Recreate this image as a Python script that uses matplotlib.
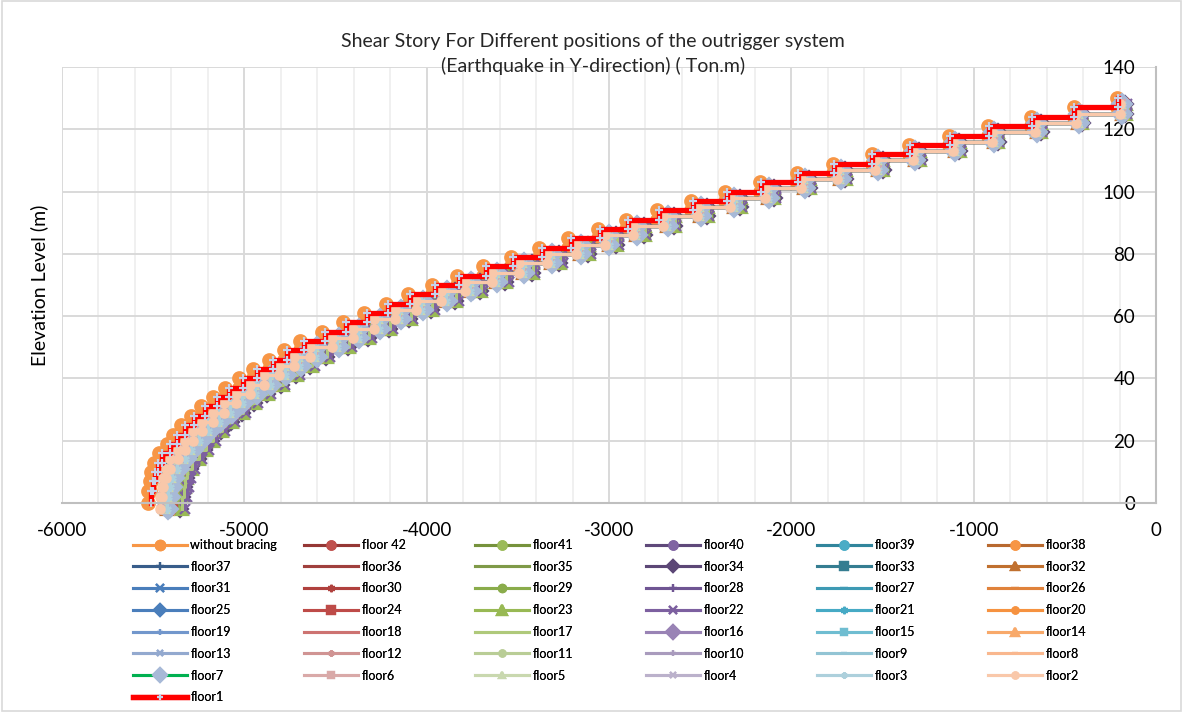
import numpy as np
import matplotlib
matplotlib.use('Agg')
import matplotlib.pyplot as plt
from matplotlib.patches import Rectangle

plt.rcParams['font.family'] = ['Lato', 'DejaVu Sans']
plt.rcParams['axes.unicode_minus'] = False

# story levels (m): ground story 4 m, then 3 m
levels = [0, 4, 7, 10, 13, 16, 19, 22, 25, 28, 31, 34, 37, 40, 43, 46, 49, 52,
          55, 58, 61, 64, 67, 70, 73, 76, 79, 82, 85, 88, 91, 94, 97, 100, 103,
          106, 109, 112, 115, 118, 121, 124, 127, 130]
# the outrigger runs sit a little lower on the sheet
level_drop = 2.0

# story shear, story 1 (bottom) .. story 43 (top)
shear_floor1 = [-5510, -5500, -5490, -5475, -5450, -5405, -5370, -5325, -5275,
                -5215, -5150, -5085, -5010, -4930, -4845, -4765, -4675, -4555,
                -4440, -4325, -4210, -4090, -3955, -3820, -3675, -3525, -3370,
                -3210, -3050, -2895, -2725, -2540, -2355, -2165, -1965, -1765,
                -1555, -1350, -1130, -915, -680, -450, -210]

shear_without = [-5530, -5520, -5510, -5495, -5470, -5425, -5390, -5345, -5295,
                 -5235, -5170, -5105, -5030, -4950, -4865, -4785, -4695, -4575,
                 -4460, -4345, -4225, -4105, -3970, -3835, -3690, -3540, -3385,
                 -3225, -3060, -2905, -2735, -2550, -2365, -2170, -1970, -1770,
                 -1560, -1355, -1135, -920, -685, -452, -212]

# right edge of the bunch of outrigger curves
shear_edge = [-5325, -5315, -5305, -5295, -5270, -5230, -5195, -5155, -5105,
              -5050, -4990, -4925, -4855, -4775, -4695, -4615, -4530, -4410,
              -4300, -4185, -4075, -3955, -3825, -3690, -3550, -3405, -3255,
              -3100, -2945, -2795, -2630, -2450, -2270, -2085, -1890, -1695,
              -1490, -1290, -1070, -860, -625, -400, -160]

# position of each outrigger curve inside the bunch (floor42 .. floor2)
band_pos = [0.5, 0.55, 0.85, 0.45, 0.4, 0.5, 0.45, 0.5, 0.85, 0.4, 0.45,
            0.55, 0.5, 0.85, 0.4, 0.45, 0.5, 0.55, 0.6, 0.9, 1.0, 0.45,
            0.5, 0.55, 0.6, 0.9, 0.5, 0.45, 0.5, 0.55, 0.6, 0.55, 0.5,
            0.45, 0.6, 0.5, 0.35, 0.4, 0.3, 0.45, 0.25]

names = ['without bracing', 'floor 42'] + ['floor%d' % f for f in range(41, 0, -1)]

line_colors = ['#F79646', '#953735', '#76923C', '#5F497A', '#31859C', '#B8692F',
               '#385D8A', '#A0403D', '#7F9A48', '#5C4776', '#357D91', '#C0702F',
               '#4A7EBB', '#B0413E', '#8AAC4B', '#6F5593', '#3E9AB4', '#E0823B',
               '#4A7EBB', '#BE4B48', '#98B954', '#7D60A0', '#46AAC5', '#F69240',
               '#7297CC', '#CD7371', '#AFC97A', '#9983B5', '#6FBDD1', '#F8A96A',
               '#93A9CF', '#D09493', '#B9CD96', '#A99BBD', '#92C4D4', '#F9B78E',
               '#00B050', '#D9A9A8', '#C9D8AF', '#BBB1CB', '#ADD0DC', '#F9C8AA',
               '#FF0000']
marker_colors = ['#F79646', '#C0504D', '#9BBB59', '#8064A2', '#4BACC6', '#F79646',
                 '#385D8A', '#A0403D', '#7F9A48', '#5C4776', '#357D91', '#C0702F',
                 '#4A7EBB', '#B0413E', '#8AAC4B', '#6F5593', '#3E9AB4', '#E0823B',
                 '#4A7EBB', '#BE4B48', '#98B954', '#7D60A0', '#46AAC5', '#F69240',
                 '#7297CC', '#CD7371', '#AFC97A', '#9983B5', '#6FBDD1', '#F8A96A',
                 '#93A9CF', '#D09493', '#B9CD96', '#A99BBD', '#92C4D4', '#F9B78E',
                 '#A7B9D7', '#D9A9A8', '#C9D8AF', '#BBB1CB', '#ADD0DC', '#F9C8AA',
                 '#C5D3EA']
AST = (6, 2, 0)
markers = ['o', 'o', 'o', 'o', 'o', 'o',
           '+', 'None', 'None', 'D', 's', '^',
           'x', AST, 'o', '+', '_', '_',
           'D', 's', '^', 'x', AST, 'o',
           '+', 'None', 'None', 'D', 's', '^',
           'x', AST, 'o', '+', '_', '_',
           'D', 's', '^', 'x', AST, 'o',
           '+']
marker_sizes = [9, 8, 8, 8, 8, 8,
                7, 7, 7, 8, 7, 8,
                7, 7, 7, 7, 7, 7,
                8, 7, 9, 7, 7, 6,
                6, 6, 6, 9, 6, 7,
                6, 6, 6, 6, 6, 6,
                10, 6, 6, 6, 6, 6,
                6]


def steps(shear, drop=0.0):
    # every story gives two points (bottom and top) with the same shear
    xs, ys = [], []
    for k, v in enumerate(shear):
        xs += [v, v]
        ys += [levels[k] - drop, levels[k + 1] - drop]
    return xs, ys


series = [shear_without]
f1 = np.array(shear_floor1, float)
edge = np.array(shear_edge, float)
for p in band_pos:
    series.append(list(f1 + p * (edge - f1)))
series.append(shear_floor1)

fig = plt.figure(figsize=(11.83, 7.12), dpi=100)
fig.patches.append(Rectangle((0.002, 0.002), 0.996, 0.996, transform=fig.transFigure,
                             fill=False, ec='#D9D9D9', lw=1.2))
ax = fig.add_axes([0.0524, 0.2935, 0.9248, 0.6124])

handles = []
last = len(names) - 1
for i, (name, sh) in enumerate(zip(names, series)):
    drop = 0.0 if i in (0, last) else level_drop
    xs, ys = steps(sh, drop)
    lw = 3.8 if i == last else 2.2
    ln, = ax.plot(xs, ys, color=line_colors[i], lw=lw, marker=markers[i],
                  ms=marker_sizes[i], mfc=marker_colors[i], mec=marker_colors[i],
                  mew=1.6, clip_on=False, label=name, solid_joinstyle='round')
    handles.append(ln)

ax.set_xlim(-6000, 0)
ax.set_ylim(0, 140)
ax.set_xticks(np.arange(-6000, 1, 1000))
ax.set_xticks(np.arange(-6000, 1, 200), minor=True)
ax.set_yticks(np.arange(0, 141, 20))
ax.grid(which='major', color='#D9D9D9', lw=1.4)
ax.grid(which='minor', axis='x', color='#EDEDED', lw=1.2)
ax.set_axisbelow(True)
for s in ['top', 'left']:
    ax.spines[s].set_visible(False)
for s in ['bottom', 'right']:
    ax.spines[s].set_color('#BFBFBF')
    ax.spines[s].set_linewidth(1.5)
ax.yaxis.tick_right()
ax.tick_params(axis='both', which='both', length=0, labelsize=13.5, colors='black')
ax.tick_params(axis='x', pad=14)
ax.tick_params(axis='y', pad=-15)
for lab in ax.get_yticklabels():
    lab.set_ha('right')

fig.text(593 / 1183, 1 - 42 / 712,
         'Shear Story For Different positions of the outrigger system',
         ha='center', va='center', fontsize=14, color='#262626')
fig.text(593 / 1183, 1 - 66 / 712, '(Earthquake in Y-direction) ( Ton.m)',
         ha='center', va='center', fontsize=14, color='#262626')
ax.set_ylabel('Elevation Level (m)', fontsize=14, labelpad=10)
ax.yaxis.set_label_position('left')

# legend filled row by row, 6 columns
for c in range(6):
    idx = list(range(c, len(handles), 6))
    leg = fig.legend([handles[j] for j in idx], [names[j] for j in idx],
                     loc='upper left',
                     bbox_to_anchor=((133 + 171 * c) / 1183, 1 - 539 / 712),
                     frameon=False, fontsize=9, handlelength=4.3, handletextpad=0.3,
                     labelspacing=0.78, borderpad=0, borderaxespad=0,
                     markerscale=0.75)
    fig.add_artist(leg)

fig.savefig('out.png', dpi=100)
